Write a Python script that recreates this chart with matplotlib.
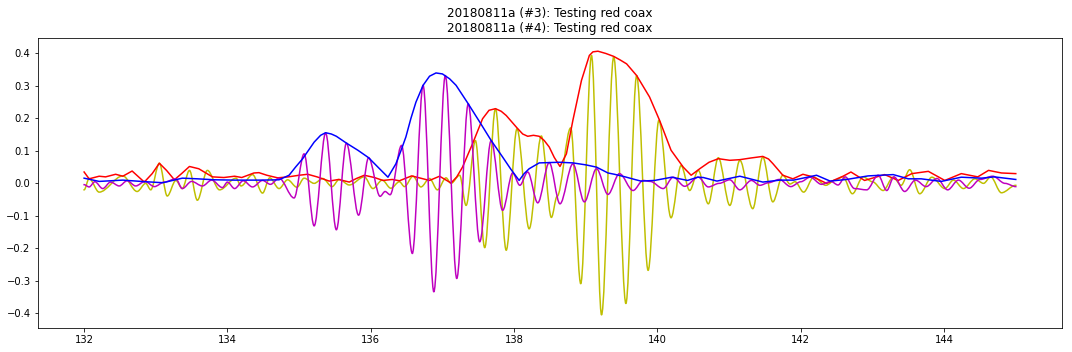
import numpy as np
import matplotlib
matplotlib.use('Agg')
import matplotlib.pyplot as plt
from matplotlib.path import Path
from matplotlib.patches import PathPatch

# channel 3 trace (yellow) - peaks/troughs
ch3_x = [132.00, 132.07, 132.21, 132.54, 132.74, 132.86, 132.93, 133.05, 133.16, 133.28,
         133.37, 133.47, 133.58, 133.72, 133.89, 134.12, 134.19, 134.35, 134.49, 134.59,
         134.72, 134.84, 134.97, 135.07, 135.21, 135.33, 135.46, 135.56, 135.70, 135.91,
         136.03, 136.16, 136.28, 136.40, 136.47, 136.59, 136.70, 136.82, 136.93, 137.05,
         137.12, 137.24, 137.33, 137.46, 137.59, 137.74, 137.89, 138.04, 138.21, 138.38,
         138.52, 138.60, 138.79, 138.93, 139.08, 139.22, 139.39, 139.56, 139.71, 139.87,
         140.02, 140.19, 140.33, 140.45, 140.57, 140.71, 140.85, 141.01, 141.15, 141.33,
         141.47, 141.61, 141.75, 141.85, 141.92, 142.04, 142.18, 142.35, 142.48, 142.59,
         142.72, 142.87, 143.00, 143.15, 143.29, 143.40, 143.52, 143.66, 143.83, 144.01,
         144.13, 144.27, 144.43, 144.55, 144.65, 144.80, 145.00]
ch3_y = [-0.020, 0.015, -0.027, 0.023, -0.025, 0.000, -0.020, 0.062, -0.039, 0.009,
         -0.016, 0.040, -0.052, 0.040, -0.020, 0.016, -0.008, 0.027, -0.030, 0.017,
         -0.016, 0.011, -0.012, 0.016, 0.000, 0.015, -0.010, 0.012, -0.005, 0.020,
         -0.016, 0.010, -0.015, 0.005, -0.010, 0.022, -0.011, 0.015, -0.020, 0.017,
         0.000, 0.025, -0.068, 0.132, -0.198, 0.230, -0.206, 0.168, -0.140, 0.146,
         -0.105, -0.040, 0.171, -0.309, 0.394, -0.405, 0.390, -0.370, 0.332, -0.268,
         0.194, -0.106, 0.055, -0.022, 0.040, -0.063, 0.079, -0.068, 0.071, -0.078,
         0.081, -0.057, 0.025, -0.002, 0.005, -0.027, 0.019, -0.006, 0.010, 0.020,
         -0.032, 0.020, 0.005, -0.022, 0.019, -0.006, 0.042, -0.032, 0.019, -0.016,
         0.010, -0.016, 0.014, 0.000, 0.020, -0.029, -0.006]

# channel 3 envelope (red)
env3_x = [132.00, 132.07, 132.21, 132.30, 132.44, 132.54, 132.67, 132.84, 132.95, 133.05,
          133.15, 133.26, 133.36, 133.47, 133.60, 133.79, 133.95, 134.10, 134.20, 134.37,
          134.44, 134.55, 134.70, 134.85, 135.00, 135.12, 135.25, 135.42, 135.55, 135.70,
          135.80, 135.91, 136.05, 136.17, 136.30, 136.40, 136.57, 136.82, 136.96, 137.12,
          137.20, 137.28, 137.42, 137.56, 137.65, 137.74, 137.82, 137.89, 138.04, 138.12,
          138.19, 138.27, 138.35, 138.42, 138.49, 138.56, 138.64, 138.73, 138.82, 138.94,
          139.05, 139.10, 139.17, 139.28, 139.39, 139.48, 139.57, 139.71, 139.89, 140.03,
          140.19, 140.36, 140.47, 140.59, 140.72, 140.85, 141.01, 141.15, 141.30, 141.47,
          141.55, 141.61, 141.75, 141.89, 142.03, 142.17, 142.36, 142.59, 142.70, 142.89,
          143.17, 143.36, 143.55, 143.78, 144.01, 144.24, 144.47, 144.62, 144.80, 145.00]
env3_y = [0.035, 0.014, 0.022, 0.020, 0.028, 0.022, 0.038, 0.004, 0.030, 0.062,
          0.040, 0.011, 0.030, 0.052, 0.045, 0.020, 0.018, 0.022, 0.018, 0.032,
          0.033, 0.025, 0.017, 0.020, 0.025, 0.028, 0.020, 0.007, 0.012, 0.004,
          0.015, 0.025, 0.018, 0.009, 0.012, 0.008, 0.023, 0.009, 0.022, 0.001,
          0.020, 0.050, 0.122, 0.199, 0.225, 0.230, 0.222, 0.209, 0.171, 0.152,
          0.145, 0.148, 0.145, 0.132, 0.112, 0.080, 0.052, 0.091, 0.194, 0.317,
          0.394, 0.405, 0.407, 0.400, 0.391, 0.380, 0.368, 0.332, 0.266, 0.194,
          0.102, 0.050, 0.025, 0.045, 0.065, 0.076, 0.071, 0.073, 0.078, 0.083,
          0.075, 0.061, 0.025, 0.014, 0.028, 0.020, 0.000, 0.022, 0.035, 0.009,
          0.027, 0.009, 0.030, 0.037, 0.009, 0.030, 0.020, 0.040, 0.032, 0.030]

# channel 4 trace (magenta)
ch4_x = [132.00, 132.07, 132.15, 132.26, 132.37, 132.49, 132.60, 132.72, 132.85, 132.98,
         133.12, 133.28, 133.37, 133.50, 133.65, 133.78, 133.93, 134.00, 134.10, 134.22,
         134.35, 134.49, 134.60, 134.72, 134.93, 135.07, 135.21, 135.37, 135.52, 135.66,
         135.83, 135.97, 136.13, 136.20, 136.27, 136.43, 136.58, 136.73, 136.88, 137.04,
         137.20, 137.36, 137.52, 137.68, 137.84, 137.98, 138.08, 138.19, 138.33, 138.49,
         138.64, 138.82, 138.98, 139.15, 139.31, 139.47, 139.66, 139.80, 139.90, 140.08,
         140.22, 140.38, 140.57, 140.71, 140.86, 141.01, 141.15, 141.31, 141.43, 141.55,
         141.70, 141.86, 142.00, 142.13, 142.29, 142.42, 142.52, 142.62, 142.75, 142.92,
         143.08, 143.20, 143.30, 143.45, 143.60, 143.75, 143.90, 144.05, 144.20, 144.35,
         144.50, 144.68, 144.85, 145.00]
ch4_y = [-0.004, -0.011, 0.005, -0.016, 0.004, -0.008, 0.008, -0.008, 0.006, -0.010,
         0.004, 0.014, -0.016, 0.006, -0.008, 0.010, -0.013, 0.004, -0.016, 0.008,
         -0.011, 0.009, -0.003, 0.016, -0.045, 0.091, -0.131, 0.155, -0.143, 0.124,
         -0.098, 0.079, -0.040, -0.025, -0.035, 0.117, -0.216, 0.302, -0.334, 0.332,
         -0.293, 0.245, -0.180, 0.132, -0.083, 0.032, -0.006, 0.035, -0.060, 0.064,
         -0.063, 0.060, -0.057, 0.045, -0.034, 0.030, -0.022, 0.009, 0.006, -0.016,
         0.019, -0.009, 0.019, -0.011, 0.000, 0.011, -0.020, 0.009, -0.006, 0.002,
         0.012, -0.010, 0.005, 0.019, -0.003, 0.006, -0.005, 0.020, -0.016, -0.020,
         0.025, -0.022, 0.020, -0.025, 0.010, -0.010, 0.015, -0.020, 0.010, -0.015,
         0.012, 0.022, 0.000, -0.010]

# channel 4 envelope (blue)
env4_x = [132.00, 132.21, 132.54, 132.86, 133.10, 133.37, 133.58, 133.82, 134.10, 134.47,
          134.72, 134.86, 134.95, 135.05, 135.21, 135.30, 135.37, 135.45, 135.52, 135.66,
          135.82, 135.97, 136.10, 136.24, 136.35, 136.42, 136.49, 136.56, 136.63, 136.73,
          136.82, 136.91, 137.00, 137.10, 137.19, 137.36, 137.52, 137.68, 137.84, 137.95,
          138.07, 138.14, 138.21, 138.35, 138.63, 138.82, 139.00, 139.15, 139.31, 139.40,
          139.55, 139.70, 139.77, 139.96, 140.20, 140.42, 140.56, 140.64, 140.83, 141.15,
          141.47, 141.71, 141.90, 142.22, 142.41, 142.64, 142.94, 143.29, 143.50, 143.68,
          143.96, 144.24, 144.52, 144.70, 145.00]
env4_y = [0.016, 0.006, 0.010, 0.005, 0.002, 0.016, 0.014, 0.011, 0.010, 0.010,
          0.011, 0.025, 0.050, 0.076, 0.127, 0.148, 0.156, 0.152, 0.145, 0.124,
          0.102, 0.079, 0.050, 0.019, 0.060, 0.100, 0.143, 0.200, 0.250, 0.302,
          0.330, 0.340, 0.337, 0.322, 0.302, 0.245, 0.189, 0.132, 0.081, 0.045,
          0.009, 0.030, 0.045, 0.063, 0.065, 0.063, 0.057, 0.050, 0.032, 0.028,
          0.020, 0.011, 0.007, 0.009, 0.019, 0.009, 0.019, 0.018, 0.007, 0.022,
          0.004, 0.010, 0.010, 0.025, 0.007, 0.012, 0.023, 0.027, 0.014, 0.014,
          0.006, 0.019, 0.016, 0.020, 0.012]

title = '20180811a (#3): Testing red coax\n20180811a (#4): Testing red coax'


# the raw traces are stored as their peaks and troughs; draw them as a smooth
# curve with flat tangents at each stored point (bezier path, data coords)
def plot_wave(ax, xs, ys, color):
    verts = [(xs[0], ys[0])]
    codes = [Path.MOVETO]
    for i in range(1, len(xs)):
        dx = xs[i] - xs[i - 1]
        verts += [(xs[i - 1] + dx / 3, ys[i - 1]), (xs[i] - dx / 3, ys[i]), (xs[i], ys[i])]
        codes += [Path.CURVE4] * 3
    patch = PathPatch(Path(verts, codes), fill=False, edgecolor=color, lw=1.5,
                      zorder=2, capstyle='projecting', joinstyle='round')
    ax.add_patch(patch)


fig = plt.figure(figsize=(1072 / 72, 352 / 72), dpi=72)
ax = fig.add_subplot(111)
plot_wave(ax, ch3_x, ch3_y, 'y')
ax.plot(env3_x, env3_y, 'r')
plot_wave(ax, ch4_x, ch4_y, 'm')
ax.plot(env4_x, env4_y, 'b')
ax.autoscale_view()
ax.set_title(title)
ax.set_xticks(np.arange(132, 145, 2))
ax.set_yticks(np.arange(-0.4, 0.41, 0.1))
fig.subplots_adjust(left=0.035, right=0.991, top=0.892, bottom=0.068)
fig.savefig('out.png', dpi=72)
